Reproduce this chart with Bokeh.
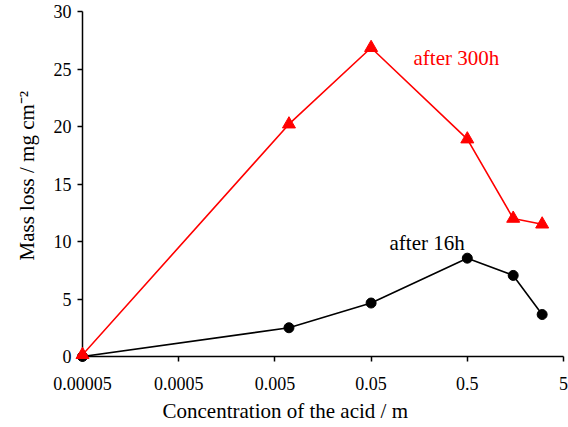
import math
from bokeh.plotting import figure
from bokeh.models import FixedTicker, Label, Range1d, Title
from bokeh.embed import file_html
from bokeh.resources import INLINE

# ---- data ----
conc = [0.00005, 0.007, 0.05, 0.5, 1.5, 3.0]
loss_16h = [0.0, 2.5, 4.65, 8.55, 7.05, 3.65]
loss_300h = [0.15, 20.2, 26.85, 18.9, 12.0, 11.5]
x_ticks = [0.00005, 0.0005, 0.005, 0.05, 0.5, 5]
x_tick_labels = ["0.00005", "0.0005", "0.005", "0.05", "0.5", "5"]
y_ticks = [0, 5, 10, 15, 20, 25, 30]

FONT = "Liberation Serif"
X0, X1 = 0.00005, 5
Y0, Y1 = 0, 30
W, H = 568, 427
L, R, T, B = 82, 5, 11, 71

p = figure(width=W, height=H, x_axis_type="log",
           x_range=Range1d(X0, X1), y_range=Range1d(Y0, Y1),
           output_backend="svg", toolbar_location=None,
           min_border_left=L, min_border_right=R,
           min_border_top=T, min_border_bottom=B)
p.outline_line_color = None
p.xgrid.visible = False
p.ygrid.visible = False
p.background_fill_color = "white"
p.border_fill_color = "white"

fw = W - L - R
fh = H - T - B
def px2x(px):
    return 10 ** (math.log10(X0) + (px - L) / fw * (math.log10(X1) - math.log10(X0)))
def py2y(py):
    return Y0 + (T + fh - py) / fh * (Y1 - Y0)

for ax in (p.xaxis[0], p.yaxis[0]):
    ax.axis_line_width = 1.5
    ax.axis_line_color = "black"
    ax.major_tick_line_width = 1.5
    ax.major_tick_in = 0
    ax.major_tick_out = 5
    ax.minor_tick_line_color = None
    ax.major_label_text_font = FONT
    ax.major_label_text_font_size = "18px"
    ax.major_label_text_color = "black"

p.xaxis.ticker = FixedTicker(ticks=x_ticks)
p.xaxis.major_label_overrides = {t: s for t, s in zip(x_ticks, x_tick_labels)}
p.xaxis.major_label_standoff = 15
p.yaxis.ticker = FixedTicker(ticks=y_ticks)
p.yaxis.major_label_standoff = 6

# axis titles
p.add_layout(Title(text="Concentration of the acid / m", align="left", offset=162 - L,
                   standoff=8, text_font=FONT, text_font_size="21px",
                   text_font_style="normal", text_color="black"), "below")
p.add_layout(Title(text="Mass loss / mg cm\u207b\u00b2", align="left", offset=(H - B) - 260,
                   standoff=23, text_font=FONT, text_font_size="21px",
                   text_font_style="normal", text_color="black"), "left")

# series
p.line(conc, loss_16h, line_color="black", line_width=1.6)
p.line(conc, loss_300h, line_color="#ff0000", line_width=1.6)
p.scatter(conc, loss_16h, marker="circle", size=10, color="black", level="overlay")
p.scatter(conc, loss_300h, marker="triangle", size=13, color="#ff0000", level="overlay")

# annotations
p.add_layout(Label(x=px2x(413), y=py2y(57), text="after 300h", text_color="#ff0000",
                   text_font=FONT, text_font_size="21px", text_baseline="middle"))
p.add_layout(Label(x=px2x(389), y=py2y(242), text="after 16h", text_color="black",
                   text_font=FONT, text_font_size="21px", text_baseline="middle"))

open("out.html", "w").write(file_html(p, INLINE))
